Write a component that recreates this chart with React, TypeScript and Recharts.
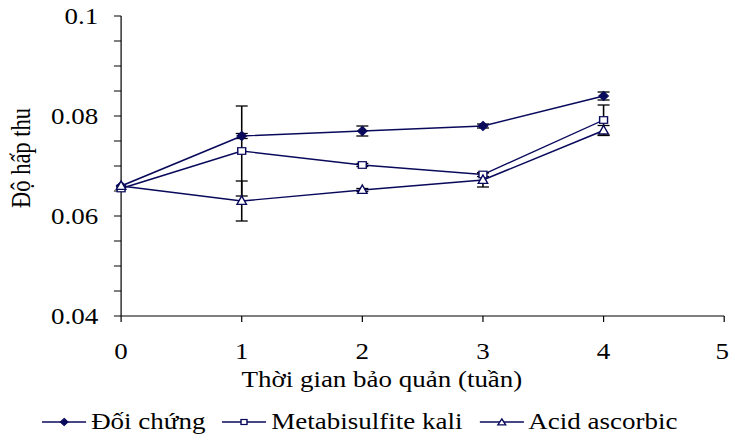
import React from "react";
import { LineChart, Line, XAxis, YAxis, ErrorBar, Legend, Label } from "recharts";

// weeks of storage
const weeks = [0, 1, 2, 3, 4];

const doiChung = [0.066, 0.076, 0.077, 0.078, 0.084];
const doiChungErr = [0, 0.0005, 0.001, 0.0004, 0.0008];

const metabisulfite = [0.0655, 0.073, 0.0702, 0.0683, 0.0792];
const metabisulfiteErr = [0, 0.009, 0.0003, 0.0004, 0.003];

const ascorbic = [0.066, 0.063, 0.0652, 0.0672, 0.0771];
const ascorbicErr = [0, 0.004, 0.0003, 0.0014, 0.001];

const seriesNames = ["Đối chứng", "Metabisulfite kali", "Acid ascorbic"];

const xTicks = [0, 1, 2, 3, 4, 5];
const yTicks = [0.04, 0.045, 0.05, 0.055, 0.06, 0.065, 0.07, 0.075, 0.08, 0.085, 0.09, 0.095, 0.1];
const yMajor = [0.04, 0.06, 0.08, 0.1];
const yMajorLabels = ["0.04", "0.06", "0.08", "0.1"];

const xTitle = "Thời gian bảo quản (tuần)";
const yTitle = "Độ hấp thu";

const data = weeks.map((w, i) => ({
  week: w,
  a: doiChung[i],
  aErr: doiChungErr[i],
  b: metabisulfite[i],
  bErr: metabisulfiteErr[i],
  c: ascorbic[i],
  cErr: ascorbicErr[i],
}));

const NAVY = "#0a0a5c";
const FONT = '"Liberation Serif", "Times New Roman", serif';
const FS = 22.5;

// the reference is stretched sideways, so draw narrow and scale
const W = 608;
const H = 443;
const SX = 729 / W;

const Diamond = (p: any) => {
  const { cx, cy, hw = 4, hh = 4.6 } = p;
  if (cx == null || cy == null) return null;
  return (
    <path
      key={p.index}
      d={`M${cx},${cy - hh} L${cx + hw},${cy} L${cx},${cy + hh} L${cx - hw},${cy} Z`}
      fill={NAVY}
      stroke={NAVY}
    />
  );
};

const Square = (p: any) => {
  const { cx, cy, s = 6.6 } = p;
  if (cx == null || cy == null) return null;
  return (
    <rect
      key={p.index}
      x={cx - s / 2}
      y={cy - s / 2}
      width={s}
      height={s}
      fill="#fff"
      stroke={NAVY}
      strokeWidth={1.2}
    />
  );
};

const Triangle = (p: any) => {
  const { cx, cy, hw = 4, h = 8.5 } = p;
  if (cx == null || cy == null) return null;
  return (
    <path
      key={p.index}
      d={`M${cx},${cy - h * 0.6} L${cx + hw},${cy + h * 0.4} L${cx - hw},${cy + h * 0.4} Z`}
      fill="#fff"
      stroke={NAVY}
      strokeWidth={1.2}
    />
  );
};

const LegendIcon = ({ kind }: { kind: number }) => (
  <svg width={37} height={12} style={{ display: "block" }}>
    <line x1={0} y1={6} x2={37} y2={6} stroke={NAVY} strokeWidth={1.3} />
    {kind === 0 && <Diamond cx={18.5} cy={6} hw={3.2} hh={3.6} />}
    {kind === 1 && <Square cx={18.5} cy={6} s={5} />}
    {kind === 2 && <Triangle cx={18.5} cy={6.5} hw={3.3} h={6} />}
  </svg>
);

const renderLegend = () => (
  <div style={{ display: "flex", alignItems: "center", height: 32, paddingLeft: 35, fontFamily: FONT, fontSize: FS }}>
    {seriesNames.map((n, i) => (
      <div key={n} style={{ display: "flex", alignItems: "center", marginRight: 14 }}>
        <LegendIcon kind={i} />
        <span style={{ marginLeft: 4, lineHeight: "32px" }}>{n}</span>
      </div>
    ))}
  </div>
);

const yTickFormat = (v: number) => {
  const i = yMajor.findIndex((m) => Math.abs(m - v) < 1e-9);
  return i >= 0 ? yMajorLabels[i] : "";
};

const XTitle = (props: any) => {
  const vb = props.viewBox || {};
  return (
    <text x={vb.x + vb.width / 2 - 34} y={vb.y + 71} textAnchor="middle" fontSize={FS} fill="#000">
      {xTitle}
    </text>
  );
};

const YTitle = (props: any) => {
  const vb = props.viewBox || {};
  const x = vb.x + 19;
  const y = 158;
  return (
    <text x={x} y={y} transform={`rotate(-90, ${x}, ${y})`} textAnchor="middle" fontSize={FS} fill="#000">
      {yTitle}
    </text>
  );
};

export default function App() {
  return (
    <div style={{ position: "absolute", left: 0, top: 0, width: 729, height: 443, overflow: "hidden", background: "#fff" }}>
      <div style={{ width: W, height: H, transform: `scaleX(${SX})`, transformOrigin: "0 0", fontFamily: FONT }}>
        <LineChart width={W} height={H} data={data} margin={{ top: 16, right: 4, bottom: 5, left: 6 }}>
          <XAxis
            dataKey="week"
            type="number"
            domain={[0, 5]}
            ticks={xTicks}
            height={90}
            stroke="#000"
            tickSize={6}
            tickMargin={21}
            tick={{ fontSize: FS, fill: "#000" }}
          >
            <Label content={<XTitle />} />
          </XAxis>
          <YAxis
            type="number"
            domain={[0.04, 0.1]}
            ticks={yTicks}
            width={95}
            stroke="#000"
            tickSize={6}
            tickMargin={13}
            interval={0}
            tickFormatter={yTickFormat}
            tick={{ fontSize: FS, fill: "#000" }}
          >
            <Label content={<YTitle />} />
          </YAxis>
          <Legend verticalAlign="bottom" height={32} content={renderLegend} wrapperStyle={{ left: 0, width: W }} />
          <Line dataKey="a" name={seriesNames[0]} stroke={NAVY} strokeWidth={1.4} dot={(p: any) => <Diamond key={p.index} {...p} />} isAnimationActive={false}>
            <ErrorBar dataKey="aErr" direction="y" width={5} stroke="#000" strokeWidth={1.3} isAnimationActive={false} />
          </Line>
          <Line dataKey="b" name={seriesNames[1]} stroke={NAVY} strokeWidth={1.4} dot={(p: any) => <Square key={p.index} {...p} />} isAnimationActive={false}>
            <ErrorBar dataKey="bErr" direction="y" width={5} stroke="#000" strokeWidth={1.3} isAnimationActive={false} />
          </Line>
          <Line dataKey="c" name={seriesNames[2]} stroke={NAVY} strokeWidth={1.4} dot={(p: any) => <Triangle key={p.index} {...p} />} isAnimationActive={false}>
            <ErrorBar dataKey="cErr" direction="y" width={5} stroke="#000" strokeWidth={1.3} isAnimationActive={false} />
          </Line>
        </LineChart>
      </div>
    </div>
  );
}
